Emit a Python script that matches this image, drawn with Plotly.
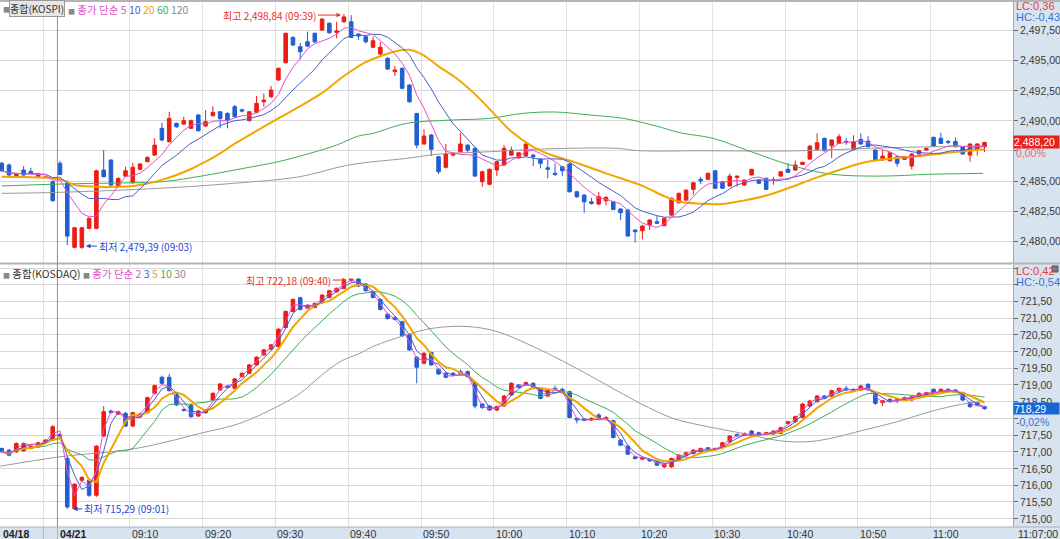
import plotly.graph_objects as go
import pandas as pd

# ---------------- DATA ----------------
# bar sequence: -8..-1 = last bars of 04/18, 0 = 04/21 09:00, 127 = 11:07
bar_index = list(range(-8, 128))

kospi_open = [2486.47, 2486.33, 2485.30, 2485.91, 2485.80, 2485.36, 2485.30, 2484.94,
              2486.47, 2484.81, 2479.51, 2479.51, 2481.08, 2481.08, 2485.91, 2486.74, 2484.59, 2485.41,
              2484.86, 2485.97, 2486.60, 2487.15, 2489.37, 2488.26, 2489.78, 2489.72, 2489.37, 2490.47,
              2489.56, 2490.41, 2490.74, 2490.60, 2491.16, 2490.90, 2490.00, 2490.69, 2491.57, 2491.98,
              2493.37, 2494.80, 2496.90, 2496.13, 2496.54, 2497.24, 2497.51, 2498.07, 2497.32, 2498.20,
              2498.20, 2497.18, 2496.96, 2496.08, 2495.52, 2495.17, 2494.06, 2494.34, 2492.95, 2490.60,
              2488.07, 2488.81, 2487.01, 2486.14, 2487.15, 2487.43, 2487.98, 2487.71, 2484.94, 2484.73,
              2485.91, 2486.33, 2487.15, 2486.93, 2487.10, 2487.15, 2486.82, 2486.10, 2485.64, 2486.18,
              2486.41, 2484.11, 2483.84, 2483.28, 2483.09, 2483.37, 2483.28, 2482.68, 2482.60, 2480.94,
              2480.88, 2481.35, 2481.63, 2481.30, 2482.18, 2483.20, 2483.42, 2484.31, 2485.14, 2485.14,
              2485.85, 2484.94, 2484.59, 2485.30, 2484.67, 2485.50, 2485.08, 2485.22, 2485.10, 2485.41,
              2485.97, 2485.91, 2486.38, 2486.82, 2487.63, 2488.54, 2487.92, 2488.12, 2488.28, 2487.63,
              2488.45, 2488.31, 2487.57, 2486.74, 2486.68, 2487.01, 2486.80, 2486.24, 2487.24, 2487.57,
              2488.62, 2488.54, 2488.28, 2488.28, 2487.84, 2487.15, 2487.63, 2487.84]
kospi_high = [2486.60, 2486.45, 2485.62, 2486.24, 2486.10, 2485.69, 2485.40, 2485.05,
              2486.68, 2485.08, 2481.20, 2481.20, 2482.00, 2485.95, 2487.57, 2486.80, 2485.30, 2486.18,
              2486.52, 2486.50, 2487.05, 2488.54, 2489.83, 2490.74, 2489.85, 2490.33, 2490.10, 2490.55,
              2490.88, 2491.20, 2490.80, 2490.70, 2491.30, 2491.00, 2490.80, 2492.05, 2492.26, 2492.88,
              2494.40, 2497.30, 2497.00, 2496.45, 2497.38, 2497.30, 2498.50, 2498.15, 2498.20, 2498.84,
              2498.75, 2497.25, 2497.05, 2496.96, 2496.50, 2495.25, 2494.53, 2494.40, 2493.00, 2490.65,
              2489.28, 2488.90, 2487.10, 2488.07, 2487.40, 2489.00, 2488.05, 2487.80, 2485.85, 2486.05,
              2486.65, 2487.98, 2487.85, 2487.40, 2488.15, 2487.25, 2486.90, 2486.74, 2486.47, 2486.25,
              2486.50, 2484.20, 2483.90, 2483.60, 2484.10, 2483.75, 2483.35, 2482.75, 2482.70, 2481.00,
              2481.35, 2481.85, 2482.10, 2481.98, 2483.65, 2484.05, 2484.30, 2484.90, 2485.35, 2485.70,
              2485.90, 2485.00, 2485.63, 2485.45, 2485.12, 2486.02, 2485.15, 2485.30, 2485.35, 2485.82,
              2486.47, 2486.70, 2486.60, 2487.95, 2488.95, 2488.60, 2488.45, 2488.90, 2488.55, 2488.80,
              2488.95, 2488.72, 2487.62, 2487.57, 2487.40, 2487.07, 2487.06, 2487.30, 2487.56, 2487.78,
              2488.68, 2489.00, 2488.40, 2488.62, 2487.90, 2488.12, 2488.12, 2488.25]
kospi_low = [2485.80, 2485.30, 2485.25, 2485.45, 2485.58, 2485.30, 2485.20, 2483.30,
             2485.50, 2479.70, 2479.42, 2479.39, 2481.00, 2481.00, 2485.30, 2484.50, 2484.50, 2485.35,
             2484.80, 2485.90, 2486.55, 2487.10, 2488.30, 2488.20, 2489.40, 2489.65, 2489.30, 2489.10,
             2489.50, 2490.35, 2489.37, 2489.37, 2490.25, 2490.70, 2489.95, 2490.60, 2491.16, 2491.90,
             2493.30, 2494.75, 2496.20, 2495.08, 2496.10, 2496.45, 2497.45, 2497.20, 2496.82, 2498.10,
             2496.85, 2496.68, 2496.40, 2496.00, 2495.45, 2494.20, 2493.70, 2492.60, 2491.50, 2487.71,
             2488.00, 2487.07, 2485.58, 2486.05, 2487.05, 2487.35, 2487.40, 2485.35, 2484.53, 2484.65,
             2485.41, 2486.25, 2487.10, 2486.85, 2487.05, 2486.24, 2486.05, 2485.22, 2485.41, 2485.41,
             2484.05, 2483.60, 2482.37, 2483.05, 2483.00, 2482.98, 2482.60, 2481.77, 2480.40, 2479.89,
             2480.17, 2480.93, 2481.45, 2481.25, 2482.10, 2483.15, 2483.35, 2483.85, 2484.75, 2485.10,
             2484.35, 2484.35, 2484.55, 2484.53, 2484.60, 2485.45, 2484.75, 2484.25, 2484.70, 2485.35,
             2485.68, 2485.85, 2486.33, 2486.75, 2487.58, 2487.45, 2486.90, 2488.08, 2488.00, 2487.58,
             2488.02, 2487.80, 2486.70, 2486.70, 2486.62, 2486.20, 2486.75, 2485.95, 2487.20, 2487.52,
             2487.85, 2488.07, 2488.05, 2487.80, 2487.20, 2486.60, 2487.10, 2487.40]
kospi_close = [2485.85, 2485.50, 2485.55, 2485.50, 2485.64, 2485.55, 2485.32, 2483.37,
               2485.55, 2480.44, 2481.13, 2481.13, 2481.91, 2485.85, 2485.36, 2484.67, 2485.22, 2485.85,
               2486.14, 2486.41, 2486.96, 2487.98, 2488.40, 2490.19, 2489.50, 2490.00, 2490.00, 2489.17,
               2489.91, 2490.69, 2490.19, 2490.05, 2490.33, 2490.80, 2490.74, 2491.44, 2491.71, 2492.54,
               2494.34, 2497.24, 2496.27, 2495.71, 2496.18, 2496.54, 2498.42, 2497.29, 2497.43, 2498.60,
               2496.90, 2497.01, 2496.54, 2496.62, 2496.08, 2494.28, 2494.20, 2492.68, 2491.57, 2487.98,
               2488.73, 2487.63, 2485.77, 2487.24, 2487.29, 2488.07, 2487.57, 2485.41, 2485.77, 2485.97,
               2486.60, 2487.71, 2487.57, 2487.34, 2488.07, 2487.01, 2486.47, 2485.97, 2485.55, 2485.85,
               2484.11, 2483.70, 2483.28, 2483.15, 2483.70, 2483.65, 2482.65, 2482.37, 2480.44, 2480.80,
               2481.27, 2481.77, 2481.50, 2481.91, 2483.57, 2483.98, 2484.25, 2484.86, 2485.02, 2485.64,
               2484.40, 2484.40, 2485.41, 2485.41, 2485.08, 2485.97, 2484.81, 2484.31, 2485.05, 2485.77,
               2485.72, 2486.33, 2486.55, 2487.90, 2488.17, 2487.51, 2488.40, 2488.67, 2488.24, 2488.26,
               2488.07, 2487.84, 2486.74, 2487.07, 2487.34, 2486.47, 2487.01, 2487.24, 2487.51, 2487.71,
               2487.90, 2488.12, 2488.22, 2487.84, 2487.24, 2488.07, 2488.07, 2488.20]

kosdaq_open = [717.10, 717.05, 717.00, 717.03, 717.10, 717.15, 717.27, 717.35,
               717.47, 716.80, 715.30, 716.15, 716.15, 715.70, 717.47, 718.22, 718.13, 718.15,
               717.77, 718.05, 718.17, 718.75, 719.23, 719.23, 718.70, 718.26, 718.40, 718.07,
               718.17, 718.55, 718.85, 718.97, 718.90, 719.25, 719.35, 719.60, 719.90, 720.07,
               720.15, 720.72, 721.20, 721.61, 721.30, 721.32, 721.46, 721.62, 721.79, 721.89,
               722.12, 722.17, 722.02, 721.79, 721.56, 721.12, 721.02, 720.89, 720.50, 719.83,
               719.65, 719.97, 719.47, 719.35, 719.35, 719.40, 719.40, 719.07, 718.43, 718.37,
               718.25, 718.37, 718.70, 719.00, 719.00, 719.05, 718.90, 718.67, 718.90, 718.87,
               718.80, 718.00, 717.98, 717.95, 718.10, 717.97, 717.93, 717.35, 717.17, 716.85,
               716.78, 716.77, 716.70, 716.55, 716.55, 716.77, 716.90, 716.95, 717.00, 717.12,
               717.06, 717.13, 717.30, 717.52, 717.50, 717.62, 717.57, 717.53, 717.53, 717.55,
               717.85, 717.90, 718.03, 718.37, 718.50, 718.67, 718.67, 718.82, 718.90, 718.87,
               718.85, 719.02, 718.77, 718.47, 718.57, 718.53, 718.55, 718.55, 718.65, 718.70,
               718.87, 718.80, 718.87, 718.85, 718.77, 718.47, 718.47, 718.35]
kosdaq_high = [717.13, 717.08, 717.28, 717.28, 717.20, 717.30, 717.38, 717.80,
               717.55, 716.85, 716.06, 716.27, 716.20, 717.20, 718.37, 718.26, 718.23, 718.20,
               718.20, 718.16, 718.65, 719.01, 719.28, 719.33, 718.73, 718.30, 718.43, 718.25,
               718.28, 718.78, 719.06, 719.00, 719.21, 719.38, 719.63, 719.86, 720.08, 720.23,
               720.70, 721.23, 721.59, 721.64, 721.40, 721.47, 721.72, 721.85, 721.92, 722.15,
               722.18, 722.18, 722.05, 721.82, 721.59, 721.15, 721.05, 720.92, 720.53, 719.86,
               719.98, 720.00, 719.50, 719.38, 719.38, 719.47, 719.43, 719.10, 718.46, 718.40,
               718.38, 718.70, 719.08, 719.03, 719.10, 719.08, 718.93, 718.88, 718.98, 718.92,
               718.83, 718.03, 718.01, 718.03, 718.16, 718.06, 717.96, 717.38, 717.20, 716.88,
               716.85, 716.80, 716.73, 716.66, 716.83, 716.93, 717.00, 717.08, 717.13, 717.15,
               717.13, 717.30, 717.50, 717.55, 717.58, 717.65, 717.60, 717.60, 717.65, 717.75,
               717.93, 718.08, 718.46, 718.55, 718.70, 718.70, 718.86, 718.93, 718.98, 718.90,
               719.00, 719.05, 718.80, 718.56, 718.60, 718.60, 718.65, 718.68, 718.78, 718.80,
               718.90, 718.90, 718.90, 718.88, 718.80, 718.50, 718.50, 718.38]
kosdaq_low = [716.97, 716.87, 716.97, 717.00, 717.07, 717.12, 717.24, 717.32,
              717.40, 715.29, 715.27, 716.10, 715.65, 715.65, 717.44, 718.14, 718.10, 717.74,
              717.74, 718.02, 718.14, 718.72, 719.02, 718.80, 718.37, 718.20, 718.02, 718.04,
              718.14, 718.52, 718.82, 718.90, 718.87, 719.22, 719.32, 719.57, 719.87, 720.04,
              720.12, 720.69, 721.17, 721.23, 721.27, 721.29, 721.43, 721.59, 721.76, 721.86,
              722.09, 721.93, 721.79, 721.59, 721.23, 720.96, 720.93, 720.44, 720.02, 719.05,
              719.62, 719.57, 719.30, 719.20, 719.27, 719.32, 719.22, 718.30, 718.28, 718.22,
              718.22, 718.34, 718.67, 718.90, 718.97, 718.87, 718.57, 718.64, 718.82, 718.74,
              718.00, 717.85, 717.91, 717.92, 717.94, 717.94, 717.40, 717.17, 716.90, 716.77,
              716.75, 716.70, 716.57, 716.52, 716.52, 716.74, 716.87, 716.92, 716.97, 717.02,
              717.03, 717.10, 717.27, 717.45, 717.47, 717.47, 717.47, 717.50, 717.50, 717.52,
              717.82, 717.87, 718.00, 718.34, 718.47, 718.57, 718.64, 718.79, 718.82, 718.80,
              718.82, 718.82, 718.40, 718.37, 718.47, 718.45, 718.52, 718.52, 718.62, 718.67,
              718.74, 718.77, 718.80, 718.76, 718.52, 718.32, 718.37, 718.26]
kosdaq_close = [717.00, 716.90, 717.25, 717.25, 717.17, 717.27, 717.35, 717.75,
                717.50, 715.35, 716.03, 716.23, 715.70, 717.17, 718.20, 718.18, 718.20, 717.77,
                718.17, 718.13, 718.62, 718.98, 719.05, 718.83, 718.40, 718.24, 718.05, 718.22,
                718.25, 718.75, 719.03, 718.93, 719.18, 719.35, 719.60, 719.83, 720.05, 720.20,
                720.67, 721.20, 721.56, 721.26, 721.37, 721.44, 721.69, 721.82, 721.89, 722.12,
                722.17, 721.96, 721.82, 721.62, 721.26, 720.99, 720.96, 720.47, 720.05, 719.53,
                719.95, 719.60, 719.33, 719.23, 719.30, 719.35, 719.25, 718.37, 718.33, 718.25,
                718.35, 718.67, 719.05, 718.93, 719.07, 718.90, 718.60, 718.85, 718.85, 718.77,
                718.03, 717.95, 717.94, 718.00, 717.97, 718.03, 717.43, 717.20, 716.93, 716.80,
                716.82, 716.73, 716.60, 716.63, 716.80, 716.90, 716.97, 717.05, 717.10, 717.05,
                717.10, 717.27, 717.47, 717.48, 717.55, 717.50, 717.50, 717.57, 717.62, 717.72,
                717.90, 718.05, 718.43, 718.52, 718.67, 718.60, 718.83, 718.90, 718.85, 718.83,
                718.97, 718.85, 718.45, 718.53, 718.50, 718.57, 718.62, 718.65, 718.75, 718.77,
                718.77, 718.87, 718.83, 718.79, 718.55, 718.35, 718.40, 718.29]

# long moving averages (bar index, value)
kospi_ma20_idx = [-8, 0, 2, 5, 8, 10, 12, 14, 16, 18, 20, 22, 24, 26, 28, 30, 33, 36, 39, 42, 45, 47, 48,
                  50, 52, 54.5, 57, 60, 62, 65, 68, 70.5, 75, 80, 83, 85, 88, 91, 94, 97, 100, 104, 108,
                  110, 113, 117, 122, 127]
kospi_ma20_val = [2485.36, 2485.14, 2484.67, 2484.53, 2484.53, 2484.59, 2484.80, 2485.10, 2485.50, 2486.00,
                  2486.60, 2487.30, 2488.10, 2488.80, 2489.50, 2490.20, 2491.20, 2492.30, 2493.70, 2494.85,
                  2495.55, 2495.85, 2495.87, 2495.40, 2494.50, 2493.50, 2492.20, 2490.33, 2489.10, 2487.84,
                  2487.05, 2486.60, 2485.64, 2484.60, 2483.75, 2483.30, 2483.12, 2483.09, 2483.40, 2483.80,
                  2484.40, 2485.30, 2486.10, 2486.47, 2486.78, 2487.01, 2487.34, 2487.63]
kospi_ma60_idx = [-8, 0, 10, 14, 18, 22, 26, 30, 34, 38, 41, 43, 47.6, 53.6, 59, 63.6, 68, 72.8, 77.4,
                  81.9, 85.2, 89.7, 94.3, 100.3, 105.8, 112.6, 119.5, 126.8]
kospi_ma60_val = [2484.59, 2484.75, 2484.86, 2484.94, 2485.27, 2485.69, 2486.14, 2486.60, 2487.24, 2487.98,
                  2488.73, 2488.95, 2489.78, 2490.05, 2490.19, 2490.61, 2490.72, 2490.47, 2490.19, 2489.56,
                  2489.00, 2488.54, 2487.57, 2486.33, 2485.58, 2485.41, 2485.56, 2485.64]
kospi_ma120_idx = [-8, -0.4, 13.7, 23.8, 32.9, 38.5, 41.2, 47.6, 52.2, 59, 66, 76.5, 79.7, 88, 100, 105,
                   112, 120, 127]
kospi_ma120_val = [2483.98, 2484.06, 2484.40, 2484.81, 2485.36, 2486.18, 2486.47, 2486.88, 2487.24,
                   2487.43, 2487.65, 2487.71, 2487.51, 2487.51, 2487.49, 2487.57, 2487.73, 2487.84, 2487.87]
kosdaq_ma30_idx = [-8.2, 0, 9.6, 14.7, 19.2, 24.7, 29.8, 33, 35.7, 38.5, 41.2, 43, 47.6, 51.3, 55.9, 60,
                   65, 70.5, 75.1, 79.7, 84.2, 87.9, 94.3, 98.9, 102.6, 105.8, 110.4, 115, 119.5, 124,
                   126.8]
kosdaq_ma30_val = [716.57, 716.85, 717.07, 717.30, 717.55, 717.85, 718.35, 718.75, 719.25, 719.70, 719.95,
                   720.15, 720.50, 720.70, 720.75, 720.60, 720.15, 719.55, 719.00, 718.45, 718.00, 717.80,
                   717.53, 717.33, 717.30, 717.40, 717.65, 717.90, 718.20, 718.43, 718.50]

time_labels = ["09:10", "09:20", "09:30", "09:40", "09:50", "10:00", "10:10", "10:20", "10:30",
               "10:40", "10:50", "11:00"]
time_label_index = [10, 20, 30, 40, 50, 60, 70, 80, 90, 100, 110, 120]
date_labels = ["04/18", "04/21"]
date_label_index = [-8, 0]

kospi_ticks = [2480.0, 2482.5, 2485.0, 2487.5, 2490.0, 2492.5, 2495.0, 2497.5]
kospi_ticktext = ["2,480,00", "2,482,50", "2,485,00", "", "2,490,00", "2,492,50", "2,495,00", "2,497,50"]
kosdaq_ticks = [715.0, 715.5, 716.0, 716.5, 717.0, 717.5, 718.0, 718.5, 719.0, 719.5, 720.0, 720.5,
                721.0, 721.5, 722.0, 722.5]
kosdaq_ticktext = ["715,00", "715,50", "716,00", "716,50", "717,00", "717,50", "", "718,50", "719,00",
                   "719,50", "720,00", "720,50", "721,00", "721,50", "", ""]

# ---------------- FIGURE ----------------
W, H = 1060, 539
ML, MR, MT, MB = 0, 47, 0, 12
PW, PH = W - ML - MR, H - MT - MB
FONT = "Noto Sans CJK KR"
NUMFONT = "Liberation Sans"
RED, BLUE = "#ec1c14", "#1f5fd2"
PINK, VIOL, ORANGE, GREEN, GRAY = "#e64fc8", "#4a5ccc", "#f2a600", "#3fae55", "#9a9a9a"
AXBG = "#d8e3f0"


def px_x(p):
    return p / PW


def px_y(p):
    return 1 - p / PH


fig = go.Figure()

ks = pd.Series(kospi_close)
kq = pd.Series(kosdaq_close)

# KOSPI panel
fig.add_trace(go.Scatter(x=kospi_ma120_idx, y=kospi_ma120_val, mode="lines", line=dict(color=GRAY, width=1, shape="spline"), xaxis="x", yaxis="y", hoverinfo="skip"))
fig.add_trace(go.Scatter(x=kospi_ma60_idx, y=kospi_ma60_val, mode="lines", line=dict(color=GREEN, width=1, shape="spline"), xaxis="x", yaxis="y", hoverinfo="skip"))
fig.add_trace(go.Scatter(x=kospi_ma20_idx, y=kospi_ma20_val, mode="lines", line=dict(color=ORANGE, width=2, shape="spline"), xaxis="x", yaxis="y", hoverinfo="skip"))
fig.add_trace(go.Scatter(x=bar_index, y=ks.rolling(10, min_periods=1).mean(), mode="lines", line=dict(color=VIOL, width=1), xaxis="x", yaxis="y", hoverinfo="skip"))
fig.add_trace(go.Scatter(x=bar_index, y=ks.rolling(5, min_periods=1).mean(), mode="lines", line=dict(color=PINK, width=1), xaxis="x", yaxis="y", hoverinfo="skip"))
fig.add_trace(go.Candlestick(x=bar_index, open=kospi_open, high=kospi_high, low=kospi_low, close=kospi_close,
                             increasing=dict(line=dict(color=RED, width=1), fillcolor=RED),
                             decreasing=dict(line=dict(color=BLUE, width=1), fillcolor=BLUE),
                             xaxis="x", yaxis="y"))

# KOSDAQ panel
fig.add_trace(go.Scatter(x=kosdaq_ma30_idx, y=kosdaq_ma30_val, mode="lines", line=dict(color=GRAY, width=1, shape="spline"), xaxis="x2", yaxis="y2", hoverinfo="skip"))
fig.add_trace(go.Scatter(x=bar_index, y=kq.rolling(10, min_periods=1).mean(), mode="lines", line=dict(color=GREEN, width=1), xaxis="x2", yaxis="y2", hoverinfo="skip"))
fig.add_trace(go.Scatter(x=bar_index, y=kq.rolling(5, min_periods=1).mean(), mode="lines", line=dict(color=ORANGE, width=2), xaxis="x2", yaxis="y2", hoverinfo="skip"))
fig.add_trace(go.Scatter(x=bar_index, y=kq.rolling(3, min_periods=1).mean(), mode="lines", line=dict(color=VIOL, width=1), xaxis="x2", yaxis="y2", hoverinfo="skip"))
fig.add_trace(go.Scatter(x=bar_index, y=kq.rolling(2, min_periods=1).mean(), mode="lines", line=dict(color=PINK, width=1), xaxis="x2", yaxis="y2", hoverinfo="skip"))
fig.add_trace(go.Candlestick(x=bar_index, open=kosdaq_open, high=kosdaq_high, low=kosdaq_low, close=kosdaq_close,
                             increasing=dict(line=dict(color=RED, width=1), fillcolor=RED),
                             decreasing=dict(line=dict(color=BLUE, width=1), fillcolor=BLUE),
                             xaxis="x2", yaxis="y2"))

xr = [-60 / 7.28, (PW - 60) / 7.28]
grid_x = [-2.3] + [i - 0.4 for i in time_label_index]
xcommon = dict(range=xr, showticklabels=False, ticks="", tickvals=grid_x, showgrid=True,
               gridcolor="#e2e2e2", gridwidth=1, zeroline=False, rangeslider=dict(visible=False),
               fixedrange=True)
top_dom = [1 - 263 / PH, 1]
bot_dom = [0, 1 - 265 / PH]
ycommon = dict(side="right", ticks="outside", ticklen=4, tickcolor="#666", showgrid=True,
               gridcolor="#d9d9d9", gridwidth=1, zeroline=False, showticklabels=False,
               showline=True, linecolor="#9aa6b4", linewidth=1, fixedrange=True)

fig.update_layout(
    width=W, height=H, margin=dict(l=ML, r=MR, t=MT, b=MB),
    paper_bgcolor="white", plot_bgcolor="white", showlegend=False,
    font=dict(family=FONT, size=11, color="#333"),
    xaxis=dict(anchor="y", domain=[0, 1], **xcommon),
    xaxis2=dict(anchor="y2", domain=[0, 1], matches="x", **xcommon),
    yaxis=dict(anchor="x", domain=top_dom, range=[2478.21, 2500.0], tickvals=kospi_ticks, **ycommon),
    yaxis2=dict(anchor="x2", domain=bot_dom, range=[714.75, 722.59], tickvals=kosdaq_ticks, **ycommon),
)

shapes = []
# right axis panel and bottom time strip backgrounds
shapes.append(dict(type="rect", xref="paper", yref="paper", x0=1, x1=W / PW, y0=-MB / PH, y1=1,
                   fillcolor=AXBG, line=dict(width=0), layer="below"))
shapes.append(dict(type="rect", xref="paper", yref="paper", x0=0, x1=W / PW, y0=-MB / PH, y1=0,
                   fillcolor=AXBG, line=dict(width=0), layer="below"))
shapes.append(dict(type="line", xref="paper", yref="paper", x0=0, x1=W / PW, y0=0, y1=0,
                   line=dict(color="#a8b4c2", width=1)))
# panel frame lines
shapes.append(dict(type="line", xref="paper", yref="paper", x0=0, x1=W / PW, y0=px_y(1), y1=px_y(1),
                   line=dict(color="#b4b4b4", width=2)))
shapes.append(dict(type="line", xref="paper", yref="paper", x0=0, x1=W / PW, y0=px_y(263.5), y1=px_y(263.5),
                   line=dict(color="#b4b4b4", width=2)))
# day separator
shapes.append(dict(type="line", xref="x", yref="paper", x0=-0.35, x1=-0.35, y0=0, y1=1,
                   line=dict(color="#e46a6a", width=1)))
# separators in time strip
for sx in [-2.3, -0.35]:
    shapes.append(dict(type="line", xref="x", yref="paper", x0=sx, x1=sx, y0=-MB / PH, y1=0,
                       line=dict(color="#a8b4c2", width=1)))
# small icon at top right of lower panel
shapes.append(dict(type="rect", xref="paper", yref="paper", x0=1 + 39 / PW, x1=1 + 45 / PW,
                   y0=px_y(272), y1=px_y(266), fillcolor="#777", line=dict(color="#555", width=1)))
fig.update_layout(shapes=shapes)

ann = []
# right axis tick labels
for v, t in zip(kospi_ticks, kospi_ticktext):
    if t:
        ann.append(dict(text=t, xref="paper", x=1 + 5 / PW, yref="y", y=v, xanchor="left", yanchor="middle",
                        showarrow=False, font=dict(family=NUMFONT, size=10.5, color="#3a3a3a")))
for v, t in zip(kosdaq_ticks, kosdaq_ticktext):
    if t:
        ann.append(dict(text=t, xref="paper", x=1 + 5 / PW, yref="y2", y=v, xanchor="left", yanchor="middle",
                        showarrow=False, font=dict(family=NUMFONT, size=10.5, color="#3a3a3a")))

# time labels
for lab, k in zip(time_labels, time_label_index):
    ann.append(dict(text=lab, xref="x2", x=k - 0.4, yref="paper", y=0, xanchor="left", yanchor="top",
                    showarrow=False, xshift=0, yshift=1, font=dict(family=NUMFONT, size=10.5, color="#333")))
for lab, k in zip(date_labels, date_label_index):
    ann.append(dict(text="<b>" + lab + "</b>", xref="x2", x=max(k - 0.3, -8.1), yref="paper", y=0,
                    xanchor="left", yanchor="top", showarrow=False, xshift=0, yshift=1,
                    font=dict(family=NUMFONT, size=10.5, color="#222")))
ann.append(dict(text="11:07:00", xref="paper", x=1 + 3 / PW, yref="paper", y=0, xanchor="left",
                yanchor="top", showarrow=False, yshift=1, font=dict(family=NUMFONT, size=10.5, color="#333")))

# panel legends
ann.append(dict(text="■", xref="paper", x=px_x(1), yref="paper", y=px_y(0), xanchor="left", yanchor="top",
                showarrow=False, font=dict(size=7, color="#888"), yshift=-2))
ann.append(dict(text="종합(KOSPI)", xref="paper", x=px_x(9), yref="paper", y=px_y(0), xanchor="left",
                yanchor="top", showarrow=False, bgcolor="#e6e6e6", bordercolor="#9a9a9a", borderwidth=1,
                borderpad=0, font=dict(size=10, color="#333")))
ann.append(dict(text=("<span style='color:#888;font-size:7px'>■</span> "
                      f"<span style='color:{PINK}'>종가 단순 5</span> "
                      f"<span style='color:{VIOL}'>10</span> "
                      f"<span style='color:{ORANGE}'>20</span> "
                      f"<span style='color:{GREEN}'>60</span> "
                      f"<span style='color:#8a8a8a'>120</span>"),
                xref="paper", x=px_x(66), yref="paper", y=px_y(0), xanchor="left", yanchor="top",
                showarrow=False, font=dict(size=10.5)))
ann.append(dict(text=("<span style='color:#888;font-size:7px'>■</span> 종합(KOSDAQ) "
                      "<span style='color:#888;font-size:7px'>■</span> "
                      f"<span style='color:{PINK}'>종가 단순 2</span> "
                      f"<span style='color:{VIOL}'>3</span> "
                      f"<span style='color:{ORANGE}'>5</span> "
                      f"<span style='color:{GREEN}'>10</span> "
                      f"<span style='color:#8a8a8a'>30</span>"),
                xref="paper", x=px_x(1), yref="paper", y=px_y(264), xanchor="left", yanchor="top",
                showarrow=False, font=dict(size=10.5, color="#333")))

# high / low markers
HIRED, LOBLUE = "#e8302a", "#2446d8"
ann.append(dict(text="최고 2,498,84 (09:39)", xref="x", yref="y", x=38.6, y=2498.75, ax=-23, ay=0,
                xanchor="right", showarrow=True, arrowhead=2, arrowsize=0.9, arrowwidth=1, arrowcolor=HIRED,
                font=dict(size=10, color=HIRED)))
ann.append(dict(text="최저 2,479,39 (09:03)", xref="x", yref="y", x=3.57, y=2479.61, ax=11, ay=0,
                xanchor="left", showarrow=True, arrowhead=2, arrowsize=0.9, arrowwidth=1, arrowcolor=LOBLUE,
                font=dict(size=10, color=LOBLUE)))
ann.append(dict(text="최고 722,18 (09:40)", xref="x2", yref="y2", x=39.4, y=722.14, ax=-14, ay=0,
                xanchor="right", showarrow=True, arrowhead=2, arrowsize=0.9, arrowwidth=1, arrowcolor=HIRED,
                font=dict(size=10, color=HIRED)))
ann.append(dict(text="최저 715,29 (09:01)", xref="x2", yref="y2", x=1.8, y=715.29, ax=9, ay=0,
                xanchor="left", showarrow=True, arrowhead=2, arrowsize=0.9, arrowwidth=1, arrowcolor=LOBLUE,
                font=dict(size=10, color=LOBLUE)))


# right-side info
def side_text(txt, ypx, color, size=11):
    return dict(text=txt, xref="paper", x=1 + 1 / PW, yref="paper", y=px_y(ypx), xanchor="left",
                yanchor="middle", showarrow=False, font=dict(family=NUMFONT, size=size, color=color))


ann.append(side_text("LC:0,36", 6, "#e83a3a"))
ann.append(side_text("HC:-0,43", 17, "#3a72dd"))
ann.append(dict(text="2,488,20", xref="paper", x=1, yref="y", y=2488.2, xanchor="left", yanchor="middle",
                showarrow=False, bgcolor="#e8221a", width=45, height=12, align="left", borderpad=0,
                font=dict(family=NUMFONT, size=10.5, color="white")))
ann.append(side_text("0,00%", 153, "#e86a6a", 10.5))
ann.append(side_text("LC:0,42", 271, "#e83a3a"))
ann.append(side_text("HC:-0,54", 282, "#3a72dd"))
ann.append(dict(text="718,29", xref="paper", x=1, yref="y2", y=718.29, xanchor="left", yanchor="middle",
                showarrow=False, bgcolor="#1866d6", width=45, height=11, align="left", borderpad=0,
                font=dict(family=NUMFONT, size=10.5, color="white")))
ann.append(side_text("-0,02%", 422, "#3a72dd", 10.5))

fig.update_layout(annotations=ann)
fig.write_html("out.html", config={"displayModeBar": False, "staticPlot": True},
               post_script="document.body.style.margin='0';document.body.style.overflow='hidden';")
